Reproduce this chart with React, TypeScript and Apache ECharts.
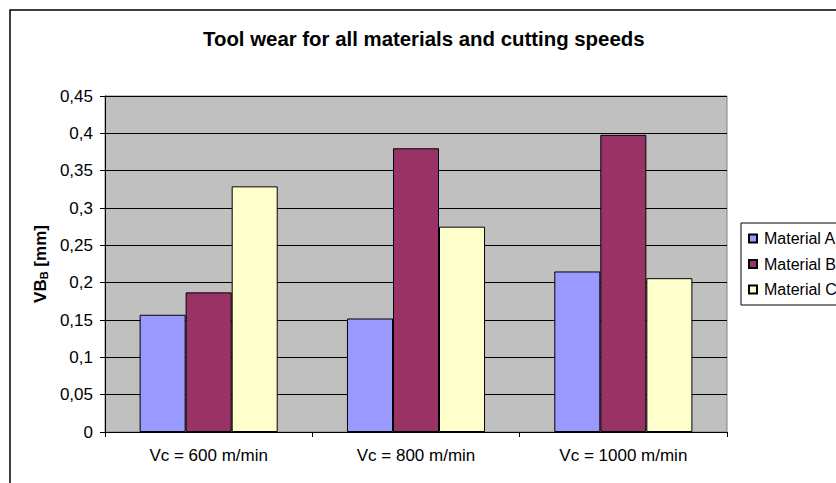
import React, { useEffect, useRef } from "react";
import * as echarts from "echarts";

const categories = ["Vc = 600 m/min", "Vc = 800 m/min", "Vc = 1000 m/min"];
const seriesNames = ["Material A", "Material B", "Material C"];
const materialA = [0.157, 0.152, 0.215];
const materialB = [0.187, 0.38, 0.398];
const materialC = [0.329, 0.275, 0.206];
const seriesColors = ["#9999FF", "#993366", "#FFFFCC"];
const yMin = 0;
const yMax = 0.45;
const yStep = 0.05;

const FONT = "'Liberation Sans', Arial, sans-serif";

export default function App() {
  const ref = useRef<HTMLDivElement>(null);
  useEffect(() => {
    if (!ref.current) return;
    const chart = echarts.init(ref.current, undefined, { renderer: "svg" });
    const values = [materialA, materialB, materialC];
    chart.setOption({
      animation: false,
      backgroundColor: "#ffffff",
      textStyle: { fontFamily: FONT, color: "#000" },
      title: {
        text: "Tool wear for all materials and cutting speeds",
        left: 203,
        top: 29,
        padding: 0,
        textStyle: { fontSize: 20.4, fontWeight: "bold", color: "#000", fontFamily: FONT },
      },
      graphic: [
        {
          type: "rect",
          z: -10,
          shape: { x: 10, y: 10, width: 900, height: 600 },
          style: { fill: "none", stroke: "#000", lineWidth: 1.5 },
        },
        {
          type: "rect",
          z: 0,
          shape: { x: 741, y: 223, width: 200, height: 82 },
          style: { fill: "#fff", stroke: "#000", lineWidth: 1 },
        },
      ],
      legend: {
        orient: "vertical",
        left: 748,
        top: 230.5,
        padding: 0,
        itemWidth: 8,
        itemHeight: 8,
        itemGap: 9.5,
        icon: "rect",
        data: seriesNames,
        textStyle: { fontSize: 16, lineHeight: 16, color: "#000", fontFamily: FONT, padding: [0, 0, 0, 2] },
      },
      grid: {
        left: 105,
        top: 96,
        right: 109,
        bottom: 51,
        show: true,
        backgroundColor: "#C0C0C0",
        borderColor: "#808080",
        borderWidth: 1,
      },
      xAxis: {
        type: "category",
        data: categories,
        axisLine: { lineStyle: { color: "#000", width: 1 } },
        axisTick: { show: true, length: 5, lineStyle: { color: "#000" } },
        axisLabel: { fontSize: 17, color: "#000", margin: 15, fontFamily: FONT },
      },
      yAxis: {
        type: "value",
        min: yMin,
        max: yMax,
        interval: yStep,
        name: "{a|VB}{s|B}{a| [mm]}",
        nameLocation: "middle",
        nameRotate: 90,
        nameGap: 56,
        nameTextStyle: {
          rich: {
            a: { fontSize: 17, fontWeight: "bold", color: "#000", fontFamily: FONT, lineHeight: 17 },
            s: { fontSize: 11, fontWeight: "bold", color: "#000", fontFamily: FONT, lineHeight: 17, verticalAlign: "bottom" },
          },
        },
        axisLine: { show: true, lineStyle: { color: "#000", width: 1 } },
        axisTick: { show: true, length: 5, lineStyle: { color: "#000" } },
        axisLabel: {
          fontSize: 17,
          color: "#000",
          margin: 12,
          fontFamily: FONT,
          formatter: (v: number) => String(parseFloat(v.toFixed(2))).replace(".", ","),
        },
        splitLine: { show: true, lineStyle: { color: "#000", width: 1 } },
      },
      series: seriesNames.map((name, i) => ({
        name,
        type: "bar",
        data: values[i],
        barGap: "0%",
        barCategoryGap: "33.4%",
        itemStyle: { color: seriesColors[i], borderColor: "#000", borderWidth: 1 },
      })),
    });
    return () => chart.dispose();
  }, []);
  return (
    <div
      ref={ref}
      style={{ position: "absolute", left: 0, top: 0, width: 836, height: 483 }}
    />
  );
}
